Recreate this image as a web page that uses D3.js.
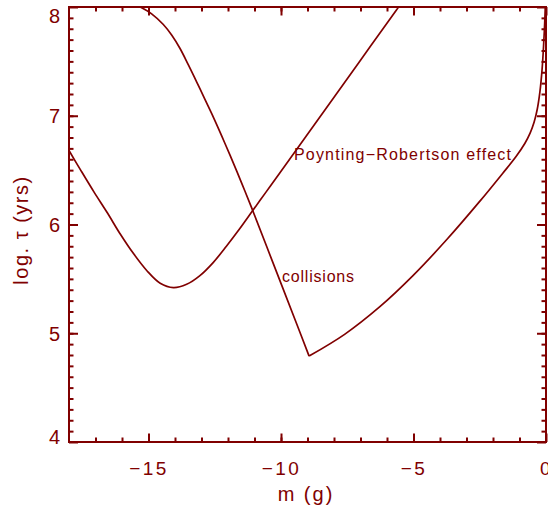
<!DOCTYPE html>
<html>
<head>
<meta charset="utf-8">
<script src="https://cdn.jsdelivr.net/npm/d3@7"></script>
<style>
  body { margin: 0; background: #fff; }
  text { font-family: "Liberation Sans", Arial, sans-serif; fill: #800000; }
</style>
</head>
<body>
<div id="chart"></div>
<script>
// values
var prMass   = [-18, -17.56, -17.06, -16.56, -16.06, -15.56, -15.06, -14.56, -14.06,
                -13.56, -13.06, -12.56, -12.06, -11.56, -11.06, -10.56, -10.06, -9.06, -7.06, -5.65, -5.5];
var prLogTau = [6.68, 6.50, 6.30, 6.11, 5.91, 5.73, 5.575, 5.46, 5.42,
                5.45, 5.53, 5.65, 5.80, 5.96, 6.13, 6.30, 6.47, 6.81, 7.49, 7.97, 8.02];

// collisions: falling branch down to the kink, then the rising branch
var collMassA   = [-15.31, -14.87, -14.44, -14.12, -13.81, -13.5, -13.18, -12.87, -12.55, -12.23, -11.92, -11.5, -11.11, -10.29, -9.41, -8.94];
var collLogTauA = [8.0, 7.935, 7.839, 7.74, 7.618, 7.47, 7.31, 7.15, 6.985, 6.81, 6.635, 6.39, 6.155, 5.64, 5.087, 4.79];
var collMassB   = [-8.94, -7.6, -6.28, -5.02, -3.76, -2.51, -1.63, -1.13, -0.8, -0.6, -0.45, -0.33, -0.23, -0.15, -0.09, -0.05, -0.02];
var collLogTauB = [4.79, 4.99, 5.242, 5.53, 5.857, 6.21, 6.472, 6.625, 6.745, 6.84, 6.94, 7.06, 7.22, 7.42, 7.65, 7.85, 8.05];

var xMajor = [-15, -10, -5, 0];
var xMinor = d3.range(-17, 0, 1);
var yMajor = [4, 5, 6, 7, 8];
var yMinor = d3.range(4.1, 8, 0.1);

var labels = [
  {text: "Poynting\u2212Robertson effect", m: -9.51, v: 6.593, len: 217},
  {text: "collisions", m: -9.96, v: 5.471, len: 72}
];

var col = "#800000";
var W = 548, H = 510;
var margin = {top: 7, right: 2, bottom: 68, left: 69};
var width = W - margin.left - margin.right;
var height = H - margin.top - margin.bottom;

var svg = d3.select("#chart").append("svg")
  .attr("width", W).attr("height", H);

var g = svg.append("g")
  .attr("transform", "translate(" + margin.left + "," + margin.top + ")");

var x = d3.scaleLinear().domain([-18, 0]).range([0, width]);
var y = d3.scaleLinear().domain([4, 8]).range([height, 0]);

svg.append("defs").append("clipPath").attr("id", "plot")
  .append("rect").attr("width", width).attr("height", height);

// minor ticks, all four sides
function styleAxis(a) {
  a.select(".domain").remove();
  a.selectAll("line").attr("stroke", col).attr("stroke-width", 2);
}
g.append("g").attr("transform", "translate(0," + height + ")")
  .call(d3.axisBottom(x).tickValues(xMinor).tickSize(-4.5).tickFormat("")).call(styleAxis);
g.append("g")
  .call(d3.axisTop(x).tickValues(xMinor).tickSize(-4.5).tickFormat("")).call(styleAxis);
g.append("g")
  .call(d3.axisLeft(y).tickValues(yMinor).tickSize(-4.5).tickFormat("")).call(styleAxis);
g.append("g").attr("transform", "translate(" + width + ",0)")
  .call(d3.axisRight(y).tickValues(yMinor).tickSize(-4.5).tickFormat("")).call(styleAxis);

// major ticks
var xAx = g.append("g").attr("transform", "translate(0," + height + ")")
  .call(d3.axisBottom(x).tickValues(xMajor).tickSize(-8.5).tickPadding(20)
    .tickFormat(function (d) { return d < 0 ? "\u2212" + Math.abs(d) : d; }));
styleAxis(xAx);
xAx.selectAll("text").attr("font-size", 19).attr("letter-spacing", 2.5)
  .attr("font-family", "Liberation Sans, Arial, sans-serif").attr("fill", col);

g.append("g").call(d3.axisTop(x).tickValues(xMajor).tickSize(-8.5).tickFormat("")).call(styleAxis);

var yAx = g.append("g")
  .call(d3.axisLeft(y).tickValues(yMajor).tickSize(-9).tickPadding(9).tickFormat(d3.format("d")));
styleAxis(yAx);
yAx.selectAll("text").attr("font-size", 20)
  .attr("font-family", "Liberation Sans, Arial, sans-serif").attr("fill", col)
  .attr("dy", function (d) { return d === 8 ? "0.78em" : d === 4 ? "0.05em" : "0.34em"; });

g.append("g").attr("transform", "translate(" + width + ",0)")
  .call(d3.axisRight(y).tickValues(yMajor).tickSize(-9).tickFormat("")).call(styleAxis);

// frame
g.append("rect")
  .attr("width", width).attr("height", height)
  .attr("fill", "none").attr("stroke", col).attr("stroke-width", 2);

// curves
var line = d3.line()
  .x(function (d) { return x(d[0]); })
  .y(function (d) { return y(d[1]); })
  .curve(d3.curveCatmullRom.alpha(0.5));

var curves = [
  d3.zip(prMass, prLogTau),
  d3.zip(collMassA, collLogTauA),
  d3.zip(collMassB, collLogTauB)
];

g.append("g").attr("clip-path", "url(#plot)")
  .selectAll("path").data(curves).enter()
  .append("path")
    .attr("d", line)
    .attr("fill", "none")
    .attr("stroke", col)
    .attr("stroke-width", 1.7);

// curve labels
g.selectAll(".lbl").data(labels).enter()
  .append("text").attr("class", "lbl")
    .attr("x", function (d) { return x(d.m); })
    .attr("y", function (d) { return y(d.v); })
    .attr("font-size", 16)
    .attr("textLength", function (d) { return d.len; })
    .attr("lengthAdjust", "spacing")
    .text(function (d) { return d.text; });

// axis titles
svg.append("text")
  .attr("x", 306).attr("y", 501)
  .attr("text-anchor", "middle")
  .attr("font-size", 20)
  .attr("letter-spacing", 2)
  .text("m (g)");

svg.append("text")
  .attr("transform", "translate(28,230) rotate(-90)")
  .attr("text-anchor", "middle")
  .attr("font-size", 20)
  .attr("letter-spacing", 1.5)
  .text("log. \u03c4 (yrs)");
</script>
</body>
</html>
